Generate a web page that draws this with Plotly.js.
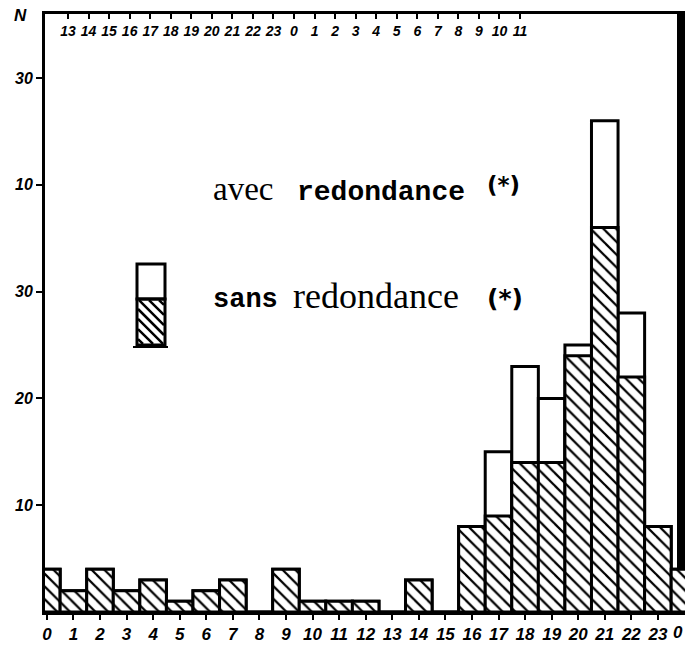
<!DOCTYPE html>
<html>
<head>
<meta charset="utf-8">
<script src="https://cdn.plot.ly/plotly-3.0.1.min.js"></script>
<style>
  html, body { margin: 0; padding: 0; background: #ffffff; }
  #chart { width: 685px; height: 646px; }
</style>
</head>
<body>
<div id="chart"></div>
<script>
// ---- data ----
const hours = [0, 1, 2, 3, 4, 5, 6, 7, 8, 9, 10, 11, 12, 13, 14, 15, 16, 17, 18, 19, 20, 21, 22, 23, 24];
const bottomLabels = ["0", "1", "2", "3", "4", "5", "6", "7", "8", "9", "10", "11", "12", "13", "14", "15", "16", "17", "18", "19", "20", "21", "22", "23", "0"];
const topLabels = ["13", "14", "15", "16", "17", "18", "19", "20", "21", "22", "23", "0", "1", "2", "3", "4", "5", "6", "7", "8", "9", "10", "11"];
const avecRedondance = [4, 2, 4, 2, 3, 1, 2, 3, 0, 4, 1, 1, 1, 0, 3, 0, 8, 15, 23, 20, 25, 46, 28, 8, 4];
const sansRedondance = [4, 2, 4, 2, 3, 1, 2, 3, 0, 4, 1, 1, 1, 0, 3, 0, 8, 9, 14, 14, 24, 36, 22, 8, 4];
const yTickVals = [10, 20, 30, 40, 50];
const yTickText = ["10", "20", "30", "10", "30"];
const legendLine1 = ["avec", "redondance", "(*)"];
const legendLine2 = ["sans", "redondance", "(*)"];

// ---- geometry helpers (pixel -> paper) ----
const W = 685, H = 646;
const M = { l: 45, r: 0, t: 14, b: 34 };
const PW = W - M.l - M.r, PH = H - M.t - M.b;
const px = x => (x - M.l) / PW;
const py = y => (H - M.b - y) / PH;

const handFont = { family: "Liberation Sans, Arial, sans-serif", color: "#000", weight: "bold", style: "italic" };

// hatch path for the legend swatch
function hatchPath(x1, y1, x2, y2, step) {
  let d = "";
  for (let c = x1 - y2 + step / 2; c < x2 - y1; c += step) {
    const ya = Math.max(y1, x1 - c), yb = Math.min(y2, x2 - c);
    if (yb <= ya) continue;
    d += `M${px(ya + c).toFixed(4)},${py(ya).toFixed(4)} L${px(yb + c).toFixed(4)},${py(yb).toFixed(4)} `;
  }
  return d;
}

const traces = [
  {
    type: "bar", name: "avec redondance (*)", x: hours, y: avecRedondance, width: 1,
    marker: { color: "#ffffff", line: { color: "#000", width: 3 } },
    showlegend: false, hoverinfo: "x+y"
  },
  {
    type: "bar", name: "sans redondance (*)", x: hours, y: sansRedondance, width: 1,
    marker: {
      color: "#ffffff",
      pattern: { shape: "\\", fgcolor: "#000", bgcolor: "#ffffff", size: 9, solidity: 0.25 },
      line: { color: "#000", width: 3 }
    },
    showlegend: false, hoverinfo: "x+y"
  },
  {
    type: "scatter", x: [0], y: [0], xaxis: "x2", yaxis: "y", mode: "markers",
    marker: { opacity: 0 }, showlegend: false, hoverinfo: "skip"
  }
];

const lastIdx = hours.length - 1;

const annotations = [
  { text: "N", xref: "paper", yref: "paper", x: px(20), y: py(15), xanchor: "center", yanchor: "middle",
    showarrow: false, font: Object.assign({}, handFont, { size: 17 }) },
  // last bottom tick label (kept inside the picture edge)
  { text: bottomLabels[lastIdx], xref: "x", yref: "paper", x: hours[lastIdx], y: py(622), xanchor: "right", yanchor: "top",
    showarrow: false, borderpad: 0, font: Object.assign({}, handFont, { size: 17 }) },
  // line 1
  { text: legendLine1[0], xref: "paper", yref: "paper", x: px(211), y: py(189), xanchor: "left", yanchor: "middle",
    showarrow: false, font: { family: "Liberation Serif, Times New Roman, serif", size: 33, color: "#000" } },
  { text: legendLine1[1], xref: "paper", yref: "paper", x: px(295), y: py(192), xanchor: "left", yanchor: "middle",
    showarrow: false, font: { family: "Liberation Mono, Courier New, monospace", size: 28, color: "#000", weight: "bold" } },
  { text: legendLine1[2], xref: "paper", yref: "paper", x: px(485), y: py(185), xanchor: "left", yanchor: "middle",
    showarrow: false, font: { family: "DejaVu Sans, sans-serif", size: 23, color: "#000", weight: "bold" } },
  // line 2
  { text: legendLine2[0], xref: "paper", yref: "paper", x: px(211), y: py(300), xanchor: "left", yanchor: "middle",
    showarrow: false, font: { family: "Liberation Mono, Courier New, monospace", size: 27, color: "#000", weight: "bold" } },
  { text: legendLine2[1], xref: "paper", yref: "paper", x: px(291), y: py(296), xanchor: "left", yanchor: "middle",
    showarrow: false, font: { family: "Liberation Serif, Times New Roman, serif", size: 36, color: "#000" } },
  { text: legendLine2[2], xref: "paper", yref: "paper", x: px(485), y: py(298), xanchor: "left", yanchor: "middle",
    showarrow: false, font: { family: "DejaVu Sans, sans-serif", size: 25, color: "#000", weight: "bold" } }
];

const shapes = [
  // legend swatch: white upper part, hatched lower part
  { type: "rect", xref: "paper", yref: "paper", x0: px(137), x1: px(165), y0: py(299), y1: py(264),
    line: { color: "#000", width: 3 }, fillcolor: "#fff" },
  { type: "path", xref: "paper", yref: "paper", path: hatchPath(138, 300, 164, 344, 10),
    line: { color: "#000", width: 2.5 } },
  { type: "rect", xref: "paper", yref: "paper", x0: px(137), x1: px(165), y0: py(345), y1: py(299),
    line: { color: "#000", width: 3 } },
  { type: "line", xref: "paper", yref: "paper", x0: px(133), x1: px(168), y0: py(347), y1: py(347),
    line: { color: "#000", width: 2 } },
  // thick right border of the scanned frame
  { type: "line", xref: "paper", yref: "paper", x0: px(681), x1: px(681), y0: py(570), y1: 1,
    line: { color: "#000", width: 8 } }
];

const layout = {
  width: W, height: H,
  margin: M,
  paper_bgcolor: "#fff", plot_bgcolor: "#fff",
  barmode: "overlay",
  bargap: 0,
  showlegend: false,
  xaxis: {
    range: [-0.07, 24.02], tickmode: "array",
    tickvals: hours.slice(0, lastIdx), ticktext: bottomLabels.slice(0, lastIdx),
    showgrid: false, zeroline: false, showline: true, linecolor: "#000", linewidth: 3,
    ticks: "outside", ticklen: 5, tickwidth: 2, tickcolor: "#000",
    tickfont: Object.assign({}, handFont, { size: 17 })
  },
  xaxis2: {
    overlaying: "x", side: "top", anchor: "y",
    range: [-1.12, 30.03], tickmode: "array", tickvals: topLabels.map((_, i) => i), ticktext: topLabels,
    showgrid: false, zeroline: false, showline: true, linecolor: "#000", linewidth: 3,
    ticks: "inside", ticklen: 5, tickwidth: 2, tickcolor: "#000", ticklabelposition: "inside",
    ticklabelstandoff: 7,
    tickfont: Object.assign({}, handFont, { size: 14 })
  },
  yaxis: {
    range: [0, 56], tickmode: "array", tickvals: yTickVals, ticktext: yTickText,
    showgrid: false, zeroline: false, showline: true, linecolor: "#000", linewidth: 3,
    ticks: "outside", ticklen: 6, tickwidth: 2, tickcolor: "#000",
    tickfont: Object.assign({}, handFont, { size: 16 })
  },
  annotations: annotations,
  shapes: shapes
};

Plotly.newPlot("chart", traces, layout, { displayModeBar: false, staticPlot: true });
</script>
</body>
</html>
